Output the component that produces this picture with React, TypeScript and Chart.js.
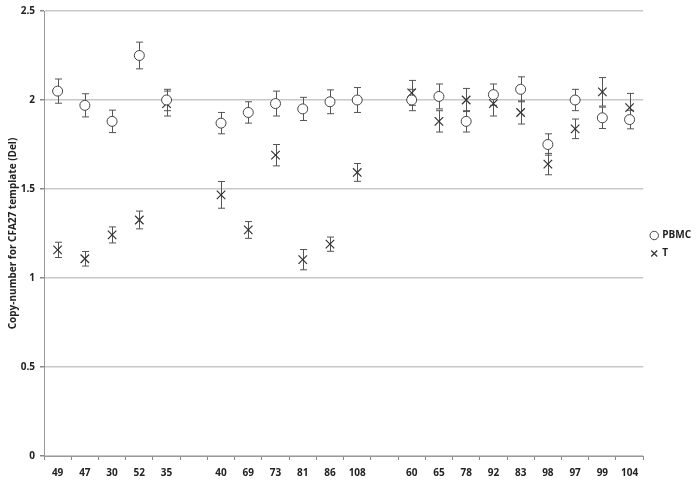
import React, { useEffect, useRef } from "react";
import { Chart, registerables } from "chart.js";

Chart.register(...registerables);

const categories = ["49", "47", "30", "52", "35", "", "40", "69", "73", "81", "86", "108", "", "60", "65", "78", "92", "83", "98", "97", "99", "104"];
const pbmcValues = [2.05, 1.97, 1.88, 2.25, 2.0, null, 1.87, 1.93, 1.98, 1.95, 1.99, 2.0, null, 2.0, 2.02, 1.88, 2.03, 2.06, 1.75, 2.0, 1.9, 1.89];
const pbmcErrors = [0.068, 0.065, 0.063, 0.075, 0.06, null, 0.06, 0.06, 0.07, 0.065, 0.067, 0.07, null, 0.06, 0.07, 0.06, 0.06, 0.07, 0.06, 0.06, 0.06, 0.052];
const tValues = [1.158, 1.108, 1.242, 1.326, 1.98, null, 1.467, 1.27, 1.69, 1.103, 1.19, 1.593, null, 2.04, 1.88, 2.0, 1.98, 1.93, 1.64, 1.838, 2.046, 1.957];
const tErrors = [0.043, 0.041, 0.045, 0.05, 0.07, null, 0.075, 0.047, 0.06, 0.057, 0.04, 0.05, null, 0.07, 0.06, 0.065, 0.07, 0.065, 0.06, 0.055, 0.08, 0.08];
const yTicks = [0, 0.5, 1, 1.5, 2, 2.5];
const yTickLabels = ["0", "0.5", "1", "1.5", "2", "2.5"];
const yTitle = "Copy-number for CFA27 template (Del)";

const FONT = "'Open Sans', 'Liberation Sans', sans-serif";

const errorBarPlugin = {
  id: "errorBars",
  beforeDatasetsDraw(chart: any) {
    const { ctx } = chart;
    const x = chart.scales.x;
    const y = chart.scales.y;
    const sets = [
      { vals: pbmcValues, errs: pbmcErrors },
      { vals: tValues, errs: tErrors },
    ];
    ctx.save();
    ctx.strokeStyle = "#555555";
    ctx.lineWidth = 1;
    sets.forEach(({ vals, errs }) => {
      vals.forEach((v, i) => {
        const e = errs[i];
        if (v == null || e == null) return;
        const px = Math.round(x.getPixelForValue(i)) + 0.5;
        const top = y.getPixelForValue(v + e);
        const bot = y.getPixelForValue(v - e);
        const cap = 3.5;
        ctx.beginPath();
        ctx.moveTo(px, top);
        ctx.lineTo(px, bot);
        ctx.moveTo(px - cap, top);
        ctx.lineTo(px + cap, top);
        ctx.moveTo(px - cap, bot);
        ctx.lineTo(px + cap, bot);
        ctx.stroke();
      });
    });
    ctx.restore();
  },
};

export default function App() {
  const ref = useRef<HTMLCanvasElement>(null);
  useEffect(() => {
    if (!ref.current) return;
    const chart = new Chart(ref.current, {
      type: "line",
      data: {
        labels: categories,
        datasets: [
          {
            label: "PBMC",
            data: pbmcValues,
            showLine: false,
            pointStyle: "circle",
            pointRadius: 5,
            pointBorderWidth: 1,
            pointBackgroundColor: "#ffffff",
            pointBorderColor: "#444444",
            backgroundColor: "#ffffff",
            borderColor: "#444444",
          },
          {
            label: "T",
            data: tValues,
            showLine: false,
            pointStyle: "crossRot",
            pointRadius: 6,
            pointBorderWidth: 1.2,
            pointBorderColor: "#333333",
            borderColor: "#333333",
            backgroundColor: "#333333",
          },
        ],
      },
      options: {
        animation: false,
        responsive: true,
        maintainAspectRatio: false,
        layout: { padding: { top: 8, right: -4, bottom: 0, left: 0 } },
        plugins: {
          tooltip: { enabled: false },
          legend: {
            position: "right",
            align: "center",
            labels: {
              usePointStyle: true,
              boxWidth: 6,
              boxHeight: 6,
              padding: 8,
              color: "#222222",
              font: { family: FONT, size: 10, weight: "bold" },
            },
          },
        },
        scales: {
          x: {
            type: "category",
            offset: true,
            grid: {
              offset: true,
              drawOnChartArea: false,
              drawTicks: true,
              tickLength: 4,
              tickColor: "#888888",
            },
            border: { color: "#999999", width: 1 },
            ticks: {
              autoSkip: false,
              maxRotation: 0,
              padding: 7,
              color: "#222222",
              font: { family: FONT, size: 10, weight: "bold" },
            },
            afterFit: (s: any) => {
              s.height = 25;
            },
          },
          y: {
            min: 0,
            max: 2.5,
            afterBuildTicks: (s: any) => {
              s.ticks = yTicks.map((v) => ({ value: v }));
            },
            grid: {
              color: "#c8c8c8",
              lineWidth: 1.5,
              drawTicks: true,
              tickLength: 4,
              tickColor: "#888888",
            },
            border: { color: "#999999", width: 1, display: true },
            ticks: {
              padding: 5,
              color: "#222222",
              font: { family: FONT, size: 10, weight: "bold" },
              callback: (_v: any, i: number) => yTickLabels[i],
            },
            title: {
              display: true,
              text: yTitle,
              color: "#222222",
              padding: { top: 7, bottom: 0 },
              font: { family: FONT, size: 10, weight: "bold" },
            },
            afterFit: (s: any) => {
              s.width = 44;
            },
          },
        },
      },
      plugins: [errorBarPlugin],
    });
    return () => chart.destroy();
  }, []);
  return (
    <div style={{ position: "absolute", left: 0, top: 0, width: 697, height: 481, background: "#ffffff" }}>
      <canvas ref={ref} />
    </div>
  );
}
